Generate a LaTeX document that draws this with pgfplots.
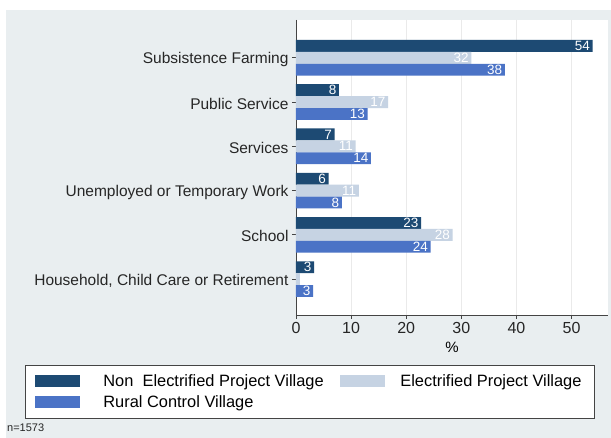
\documentclass[border=0pt]{standalone}
\usepackage{pgfplots}
\pgfplotsset{compat=1.18}
\usepackage{fontspec}
\setmainfont{Liberation Sans}
\definecolor{bg}{HTML}{E9EEF0}
\definecolor{cdark}{HTML}{1D4A73}
\definecolor{clight}{HTML}{C6D3E3}
\definecolor{cmed}{HTML}{4B73C6}
\definecolor{gridc}{HTML}{EAEAEA}
\definecolor{axc}{HTML}{444444}
\begin{document}
\begin{tikzpicture}[x=1pt,y=1pt]
\useasboundingbox (0,0) rectangle (611,438);
\fill[white] (0,0) rectangle (611,438);
\fill[bg] (6,0) rectangle (611,428);
\begin{axis}[
  at={(296pt,123pt)}, anchor=south west,
  scale only axis, width=312pt, height=295pt,
  xbar, y dir=reverse,
  xmin=0, xmax=56.6, ymin=-0.854, ymax=5.81,
  ytick={0,1,2,3,4,5},
  yticklabels={Subsistence Farming,Public Service,Services,Unemployed or Temporary Work,School,{Household, Child Care or Retirement}},
  xtick={0,10,20,30,40,50},
  axis background/.style={fill=white},
  axis lines=left, axis line style={-, color=axc, line width=0.8pt},
  tick style={color=axc, line width=0.8pt},
  tick align=outside, major tick length=4pt,
  xmajorgrids, grid style={gridc, line width=0.8pt},
  /pgf/number format/assume math mode=true,
  xticklabel style={font=\fontsize{16}{18}\selectfont, text=black!85},
  yticklabel style={font=\fontsize{15.5}{18}\selectfont, text=black!85, yshift=-1.5pt},
  xlabel={\%}, xlabel style={font=\fontsize{15}{18}\selectfont, yshift=-1pt},
  bar width=11.9pt,
  nodes near coords, point meta=explicit symbolic,
  every node near coord/.append style={anchor=east, text=white, font=\fontsize{13.5}{14}\selectfont, xshift=-0.5pt, inner sep=2pt},
  legend columns=2,
  legend style={at={(-0.8686,-0.1695)}, anchor=north west, draw=axc, line width=0.8pt, fill=white,
    inner xsep=10pt, inner ysep=9pt, row sep=8pt, column sep=0pt,
    font=\fontsize{16.4}{18}\selectfont, nodes={inner sep=0pt}, cells={anchor=west}},
  legend image code/.code={\fill[#1] (0pt,-6pt) rectangle (45pt,6pt);},
]
\addplot[fill=cdark, draw=none, bar shift=11.9pt] coordinates {
  (53.8,0) [54] (7.8,1) [8] (7.0,2) [7] (5.9,3) [6] (22.7,4) [23] (3.3,5) [3]};
\addlegendentry{\makebox[260pt][l]{\hspace{23pt}Non\ \ Electrified Project Village}}
\addplot[fill=clight, draw=none, bar shift=0pt] coordinates {
  (31.8,0) [32] (16.7,1) [17] (10.8,2) [11] (11.4,3) [11] (28.4,4) [28] (0.7,5) [\mbox{}]};
\addlegendentry{\makebox[199pt][l]{\hspace{15pt}Electrified Project Village}}
\addplot[fill=cmed, draw=none, bar shift=-11.9pt] coordinates {
  (37.9,0) [38] (13.0,1) [13] (13.6,2) [14] (8.3,3) [8] (24.4,4) [24] (3.1,5) [3]};
\addlegendentry{\makebox[260pt][l]{\hspace{23pt}Rural Control Village}}
\end{axis}
\node[anchor=base west, font=\fontsize{11}{13}\selectfont, text=black!85, inner sep=0pt] at (7,6) {n=1573};
\end{tikzpicture}
\end{document}
